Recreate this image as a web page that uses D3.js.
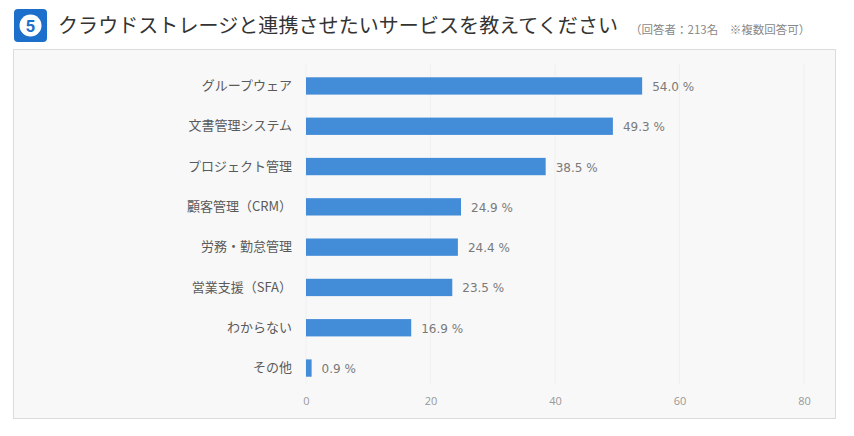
<!DOCTYPE html>
<html>
<head>
<meta charset="utf-8">
<script src="https://cdn.jsdelivr.net/npm/d3@7"></script>
<style>
  body { margin: 0; background: #fff; }
  svg { display: block; font-family: "Noto Sans CJK JP", "Noto Sans", sans-serif; }
</style>
</head>
<body>
<svg id="chart" width="854" height="436"></svg>
<script>
const categories = ["グループウェア", "文書管理システム", "プロジェクト管理", "顧客管理（CRM）", "労務・勤怠管理", "営業支援（SFA）", "わからない", "その他"];
const values = [54.0, 49.3, 38.5, 24.9, 24.4, 23.5, 16.9, 0.9];
const ticks = [0, 20, 40, 60, 80];

const title = "クラウドストレージと連携させたいサービスを教えてください";
const note = "（回答者：213名　※複数回答可）";

const svg = d3.select("#chart");

// header
svg.append("rect")
    .attr("x", 14).attr("y", 9).attr("width", 33).attr("height", 33)
    .attr("rx", 4).attr("fill", "#1c6fca");
svg.append("circle")
    .attr("cx", 30.5).attr("cy", 25.5).attr("r", 11)
    .attr("fill", "#fff");
svg.append("text")
    .attr("x", 30.5).attr("y", 31.5)
    .attr("text-anchor", "middle")
    .attr("font-size", 17).attr("font-weight", "bold")
    .attr("font-family", "Roboto, sans-serif")
    .attr("fill", "#1c6fca")
    .text("5");
svg.append("text")
    .attr("x", 58).attr("y", 33)
    .attr("font-size", 20).attr("fill", "#333")
    .attr("textLength", 560)
    .text(title);
svg.append("text")
    .attr("x", 630).attr("y", 34)
    .attr("font-size", 11.5).attr("fill", "#888")
    .text(note);

// frame
svg.append("rect")
    .attr("x", 13.5).attr("y", 49.5).attr("width", 822).attr("height", 369)
    .attr("fill", "#f8f8f8").attr("stroke", "#dcdcdc");

const x = d3.scaleLinear().domain([0, 80]).range([306, 804]);
const y = d3.scaleBand().domain(categories).range([66, 388]).paddingInner(0.57).paddingOuter(0.28);

// grid
svg.append("g")
    .selectAll("line")
    .data(ticks)
    .enter()
    .append("line")
        .attr("x1", function(d) { return x(d); })
        .attr("x2", function(d) { return x(d); })
        .attr("y1", 64).attr("y2", 384)
        .attr("stroke", "#f0f0f0");

// axis
const xAxis = svg.append("g")
    .attr("transform", "translate(0, 397)")
    .call(d3.axisBottom(x).tickValues(ticks).tickSize(0).tickPadding(0));
xAxis.select(".domain").remove();
xAxis.selectAll("text")
    .attr("font-size", 11).attr("fill", "#999")
    .attr("font-family", "Open Sans, sans-serif");

const yAxis = svg.append("g")
    .attr("transform", "translate(292, 0)")
    .call(d3.axisLeft(y).tickSize(0).tickPadding(0));
yAxis.select(".domain").remove();
yAxis.selectAll("text")
    .attr("font-size", 13).attr("fill", "#5a5a5a")
    .attr("font-family", "Noto Sans CJK JP, sans-serif");

// bars
svg.append("g")
    .selectAll("rect")
    .data(values)
    .enter()
    .append("rect")
        .attr("x", x(0))
        .attr("y", function(d, i) { return y(categories[i]); })
        .attr("width", function(d) { return x(d) - x(0); })
        .attr("height", y.bandwidth())
        .attr("fill", "#438cd8");

svg.append("g")
    .selectAll("text")
    .data(values)
    .enter()
    .append("text")
        .attr("x", function(d) { return x(d) + 10; })
        .attr("y", function(d, i) { return y(categories[i]) + y.bandwidth() / 2 + 5; })
        .attr("font-size", 12).attr("fill", "#7a7a7a")
        .attr("font-family", "DejaVu Sans, sans-serif")
        .text(function(d) { return d.toFixed(1) + " %"; });
</script>
</body>
</html>
